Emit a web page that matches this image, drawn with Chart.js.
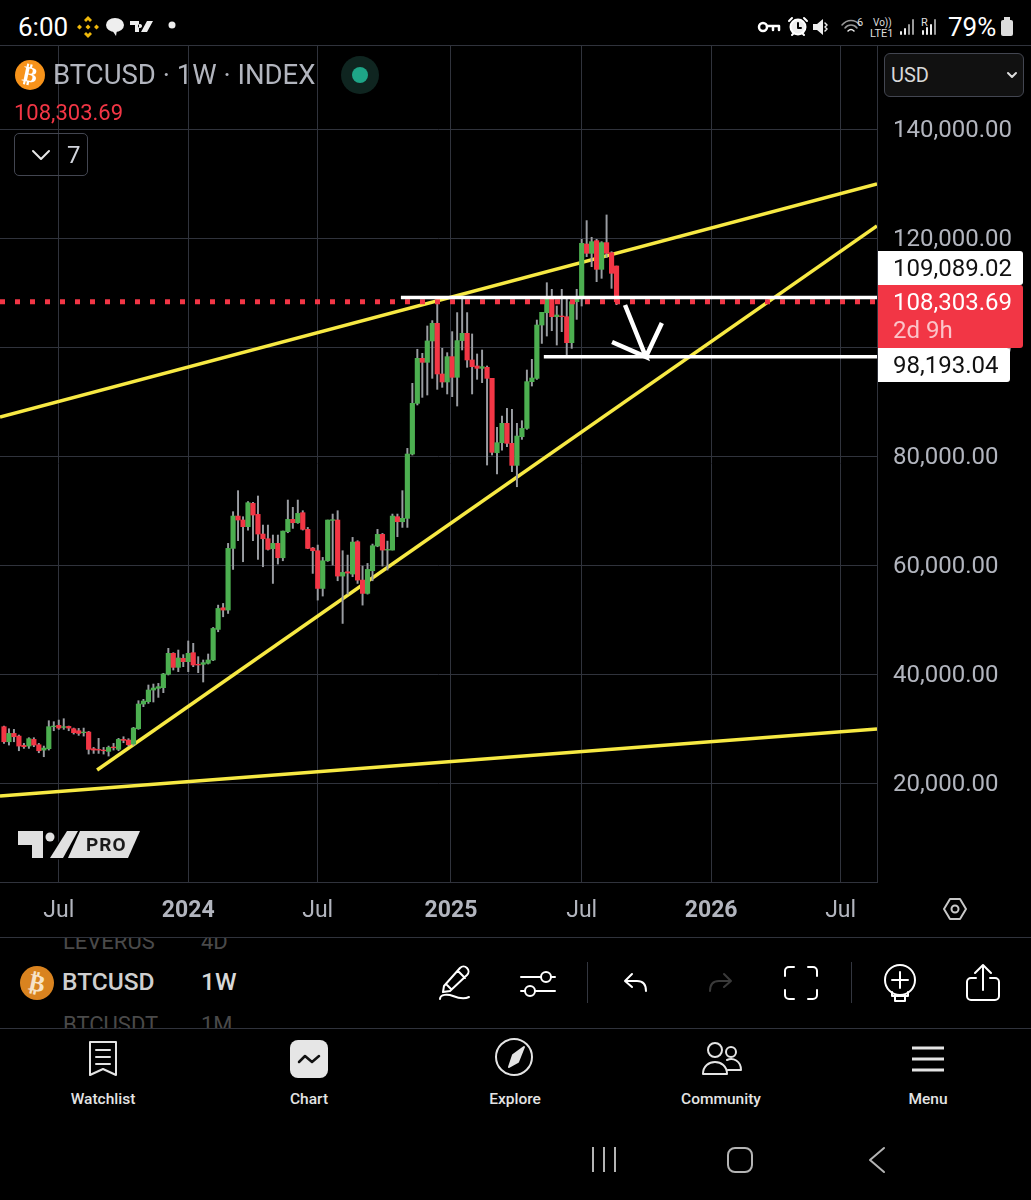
<!DOCTYPE html>
<html>
<head>
<meta charset="utf-8">
<title>BTCUSD 1W</title>
<script src="https://cdn.jsdelivr.net/npm/chart.js@4/dist/chart.umd.min.js"></script>
<style>
html, body { margin: 0; padding: 0; background: #000; }
body { position: relative; width: 1031px; height: 1200px; overflow: hidden; font-family: Roboto, sans-serif; color: #fff; }
#chart { position: absolute; left: 0; top: 45px; }
.t { position: absolute; white-space: nowrap; line-height: 1; }
.rule { position: absolute; left: 0; width: 1031px; height: 1px; background: #30333c; }
.box { position: absolute; box-sizing: border-box; }
.nav { position: absolute; top: 1092px; width: 120px; text-align: center; font-size: 15.5px; font-weight: 500; color: #e4e4e4; line-height: 1; }
svg.i { position: absolute; overflow: visible; fill: none; stroke: #fff; stroke-width: 2; stroke-linecap: round; stroke-linejoin: round; }
</style>
</head>
<body>
<canvas id="chart" width="1031" height="892"></canvas>

<!-- status bar -->
<div class="t" style="left:18px;top:14px;font-size:26px;">6:00</div>
<svg class="i" style="left:76px;top:15px;stroke:none;fill:#f0b90b" width="24" height="24" viewBox="0 0 24 24">
  <path d="M12 1l4 4-2 2-2-2-2 2-2-2zM12 23l4-4-2-2-2 2-2-2-2 2zM1 12l2.500-2.500L6 12l-2.500 2.500zM18 12l2.500-2.500L23 12l-2.500 2.500zM12 9.500l2.500 2.500-2.500 2.500L9.500 12z"/>
</svg>
<svg class="i" style="left:105px;top:17px;stroke:none;fill:#eee" width="20" height="20" viewBox="0 0 20 20">
  <ellipse cx="10" cy="8" rx="9" ry="7"/><path d="M7 13l4 6 1-6z"/>
</svg>
<svg class="i" style="left:130px;top:21px;stroke:none;fill:#eee" width="24" height="12" viewBox="0 0 24 12">
  <path d="M0 0h9v11H5V4H0zM10 3a2 2 0 1 0 .01 0zM17 0h6l-6 11h-6z"/>
</svg>
<svg class="i" style="left:168px;top:21px;stroke:none;fill:#eee" width="8" height="8"><circle cx="4" cy="4" r="3.500"/></svg>
<svg class="i" style="left:758px;top:20px;stroke-width:2.500" width="22" height="14" viewBox="0 0 22 14">
  <circle cx="5" cy="7" r="4"/><path d="M9 6h12v4M15 6v4"/>
</svg>
<svg class="i" style="left:788px;top:17px;" width="20" height="20" viewBox="0 0 20 20">
  <circle cx="10" cy="10" r="7.500" fill="#eee"/><path d="M10 6v5h3" stroke="#000"/><path d="M1 4l3-3M19 4l-3-3M4 18l2-2M16 18l-2-2"/>
</svg>
<svg class="i" style="left:812px;top:18px;stroke:none;fill:#eee" width="20" height="18" viewBox="0 0 20 18">
  <path d="M1 6h4l6-5v16l-6-5H1z"/><path d="M13 5l2 2-2 2 2 2-2 2" fill="none" stroke="#eee" stroke-width="1.500"/>
</svg>
<svg class="i" style="left:841px;top:18px;stroke:#999;stroke-width:1.500" width="22" height="18" viewBox="0 0 22 18">
  <path d="M1 7c5-6 13-6 18 0M4 10c3-4 9-4 12 0" /><path d="M7 13c2-2 4-2 6 0" stroke="#eee"/>
</svg>
<div class="t" style="left:857px;top:17px;font-size:11px;color:#ddd;">6</div>
<div class="t" style="left:873px;top:18px;font-size:10px;color:#ddd;">Vo))</div>
<div class="t" style="left:870px;top:28px;font-size:11px;color:#ddd;">LTE1</div>
<svg class="i" style="left:899px;top:18px;stroke:#999;stroke-width:2" width="16" height="18" viewBox="0 0 16 18">
  <path d="M2 16v-2" stroke="#eee"/><path d="M6 16v-5" stroke="#eee"/><path d="M10 16v-9M14 16V2"/>
</svg>
<div class="t" style="left:921px;top:17px;font-size:11px;color:#ddd;">R</div>
<svg class="i" style="left:921px;top:18px;stroke:#999;stroke-width:2" width="16" height="18" viewBox="0 0 16 18">
  <path d="M2 16v-3" stroke="#eee"/><path d="M6 16v-6" stroke="#eee"/><path d="M10 16v-9" stroke="#eee"/><path d="M14 16V2"/>
</svg>
<div class="t" style="left:948px;top:14px;font-size:26px;">79%</div>
<svg class="i" style="left:1000px;top:17px;stroke:none;fill:#ddd" width="14" height="20" viewBox="0 0 14 20">
  <rect x="4" y="0" width="6" height="3"/><rect x="1" y="3" width="12" height="16" rx="2"/>
</svg>
<div class="rule" style="top:45px;"></div>

<!-- chart header -->
<svg class="i" style="left:15px;top:60px;stroke:none" width="30" height="30"><circle cx="15" cy="15" r="15" fill="#f7931a"/></svg>
<div class="t" style="left:15px;top:60px;width:30px;text-align:center;font-size:22px;font-weight:700;line-height:30px;font-family:'DejaVu Sans';transform:rotate(12deg);">₿</div>
<div class="t" style="left:53px;top:61px;font-size:27.500px;color:#b2b5be;">BTCUSD · 1W · INDEX</div>
<svg class="i" style="left:341px;top:56px;stroke:none" width="38" height="38">
  <circle cx="19" cy="19" r="19" fill="#0f2520"/><circle cx="19" cy="19" r="8" fill="#1ea587"/>
</svg>
<div class="t" style="left:14px;top:102px;font-size:22px;color:#f23645;">108,303.69</div>
<div class="box" style="left:14px;top:133px;width:74px;height:43px;border:1.500px solid #434651;border-radius:5px;"></div>
<svg class="i" style="left:32px;top:150px;stroke:#e8e8e8" width="18" height="10"><path d="M1 1l8 8 8-8"/></svg>
<div class="t" style="left:67px;top:143px;font-size:24px;color:#d1d4dc;">7</div>
<div class="box" style="left:884px;top:53px;width:140px;height:44px;border:1.500px solid #434651;border-radius:6px;background:#111;"></div>
<div class="t" style="left:891px;top:65px;font-size:20px;color:#d8d8d8;">USD</div>
<svg class="i" style="left:1007px;top:72px;stroke:#ddd" width="10" height="6"><path d="M1 1l4 4 4-4"/></svg>

<!-- price labels on the axis -->
<div class="box" style="left:878px;top:251px;width:145px;height:34px;background:#fff;border-radius:0 3px 3px 0;"></div>
<div class="t" style="left:893px;top:256px;font-size:24px;color:#111;">109,089.02</div>
<div class="box" style="left:878px;top:285px;width:145px;height:63px;background:#f23645;border-radius:0 3px 3px 0;"></div>
<div class="t" style="left:893px;top:290px;font-size:24px;color:#fff;">108,303.69</div>
<div class="t" style="left:893px;top:318px;font-size:24px;color:#fbc4c9;">2d 9h</div>
<div class="box" style="left:878px;top:348px;width:132px;height:34px;background:#fff;border-radius:0 3px 3px 0;"></div>
<div class="t" style="left:893px;top:353px;font-size:24px;color:#111;">98,193.04</div>

<!-- logo on the chart -->
<svg class="i" style="left:18px;top:831px;stroke:#000;stroke-width:3;fill:#e0e0e0;paint-order:stroke" width="122" height="27" viewBox="0 0 122 27">
  <path d="M0 0h25v27H14V14H0z"/><circle cx="32" cy="6" r="4.500"/><path d="M49 0h11L45 27H32z"/><path d="M62 0h60l-12 27H50z"/>
</svg>
<div class="t" style="left:86px;top:835px;font-size:19px;font-weight:700;color:#1a1a1a;letter-spacing:1px;">PRO</div>

<!-- axis settings -->
<svg class="i" style="left:943px;top:897px;stroke:#c8c8c8" width="24" height="24" viewBox="0 0 24 24">
  <path d="M1 12L7 2h10l6 10-6 10H7z"/><circle cx="12" cy="12" r="3.500"/>
</svg>
<div class="rule" style="top:937px;"></div>

<!-- symbol strip -->
<div style="position:absolute;left:0;top:938px;width:400px;height:14px;overflow:hidden;">
  <div class="t" style="left:63px;top:-7px;font-size:22px;color:#4a4a4a;">LEVERUS</div>
  <div class="t" style="left:201px;top:-7px;font-size:22px;color:#4a4a4a;">4D</div>
</div>
<svg class="i" style="left:20px;top:966px;stroke:none" width="34" height="34"><circle cx="17" cy="17" r="17" fill="#d9831f"/></svg>
<div class="t" style="left:20px;top:966px;width:34px;text-align:center;font-size:24px;font-weight:700;line-height:34px;font-family:'DejaVu Sans';transform:rotate(12deg);color:#f6e3c8;">₿</div>
<div class="t" style="left:62px;top:970px;font-size:24.500px;font-weight:500;color:#cfcfcf;">BTCUSD</div>
<div class="t" style="left:201px;top:970px;font-size:24.500px;font-weight:500;color:#d8d8d8;">1W</div>
<div style="position:absolute;left:0;top:1012px;width:400px;height:16px;overflow:hidden;">
  <div class="t" style="left:63px;top:2px;font-size:22px;color:#4a4a4a;">BTCUSDT</div>
  <div class="t" style="left:201px;top:2px;font-size:22px;color:#4a4a4a;">1M</div>
</div>

<!-- toolbar -->
<svg class="i" style="left:438px;top:964px;" width="36" height="38" viewBox="0 0 36 38">
  <path d="M6 22L22 4c2-2 5-2 7 0s2 5 0 7L12 27l-7 1zM20 7l7 7M9 21l4 4"/><path d="M2 35c0-5 8-5 13-3s12 3 16 1"/>
</svg>
<svg class="i" style="left:520px;top:968px;" width="36" height="30" viewBox="0 0 36 30">
  <path d="M1 9h20M31 9h4M1 23h4M15 23h20"/><circle cx="26" cy="9" r="5"/><circle cx="10" cy="23" r="5"/>
</svg>
<div class="box" style="left:587px;top:962px;width:1px;height:41px;background:#33363f;"></div>
<svg class="i" style="left:624px;top:973px;" width="24" height="20" viewBox="0 0 24 20">
  <path d="M8 1L1 8l7 6M1 8h12c6 0 9 4 9 10"/>
</svg>
<svg class="i" style="left:708px;top:973px;stroke:#3a3a3a" width="24" height="20" viewBox="0 0 24 20">
  <path d="M16 1l7 7-7 6M23 8H11c-6 0-9 4-9 10"/>
</svg>
<svg class="i" style="left:784px;top:966px;" width="34" height="34" viewBox="0 0 34 34">
  <path d="M10 1H5a4 4 0 0 0-4 4v5M24 1h5a4 4 0 0 1 4 4v5M10 33H5a4 4 0 0 1-4-4v-5M24 33h5a4 4 0 0 0 4-4v-5"/>
</svg>
<div class="box" style="left:851px;top:962px;width:1px;height:41px;background:#33363f;"></div>
<svg class="i" style="left:884px;top:964px;" width="32" height="38" viewBox="0 0 32 38">
  <circle cx="16" cy="16" r="15"/><path d="M16 8v16M8 16h16"/><path d="M8 28v4h16v-4M11 32v5h10v-5"/>
</svg>
<svg class="i" style="left:966px;top:964px;" width="34" height="38" viewBox="0 0 34 38">
  <path d="M17 26V2M9 9l8-8 8 8"/><path d="M10 14H5a4 4 0 0 0-4 4v14a4 4 0 0 0 4 4h24a4 4 0 0 0 4-4V18a4 4 0 0 0-4-4h-5"/>
</svg>
<div class="rule" style="top:1028px;"></div>

<!-- bottom navigation -->
<svg class="i" style="left:89px;top:1041px;stroke:#e4e4e4" width="28" height="36" viewBox="0 0 28 36">
  <path d="M1 1h26v33l-13-6-13 6zM7 9h14M7 16h14M7 23h14"/>
</svg>
<svg class="i" style="left:290px;top:1040px;stroke:none;fill:#e6e6e6" width="38" height="38"><rect width="38" height="38" rx="8"/></svg>
<svg class="i" style="left:298px;top:1053px;stroke:#111;stroke-width:2.500" width="22" height="12" viewBox="0 0 22 12"><path d="M1 9l6-6 7 6 7-6"/></svg>
<svg class="i" style="left:495px;top:1038px;stroke:#e4e4e4" width="38" height="38" viewBox="0 0 38 38">
  <circle cx="19" cy="19" r="18"/><path d="M29 9l-6 15-9 5 4-12z" fill="#e4e4e4"/>
</svg>
<svg class="i" style="left:702px;top:1042px;stroke:#e4e4e4" width="40" height="34" viewBox="0 0 40 34">
  <circle cx="13" cy="8" r="7"/><circle cx="29" cy="10" r="5"/><path d="M1 32c0-16 24-16 24 0zM25 18c6-3 14 1 14 10H26"/>
</svg>
<svg class="i" style="left:912px;top:1046px;stroke:#e4e4e4;stroke-width:3;stroke-linecap:butt" width="32" height="26" viewBox="0 0 32 26">
  <path d="M0 2h32M0 13h32M0 24h32"/>
</svg>
<div class="nav" style="left:43px;">Watchlist</div>
<div class="nav" style="left:249px;">Chart</div>
<div class="nav" style="left:455px;">Explore</div>
<div class="nav" style="left:661px;">Community</div>
<div class="nav" style="left:868px;">Menu</div>

<!-- android buttons -->
<svg class="i" style="left:591px;top:1147px;stroke:#b4b4b4;stroke-linecap:butt" width="26" height="26"><path d="M2 0v25M13 0v25M24 0v25"/></svg>
<svg class="i" style="left:727px;top:1147px;stroke:#b4b4b4" width="26" height="26"><rect x="1" y="1" width="24" height="24" rx="7"/></svg>
<svg class="i" style="left:869px;top:1147px;stroke:#b4b4b4" width="16" height="26"><path d="M15 1L1 13l14 12"/></svg>

<script>
// BTCUSD weekly candles (first candle is week 1)
const opens = [
  30330,27570,29100,28610,26900,26780,28000,27020,26040,26290,
  30330,30570,30210,30390,29960,29590,29230,29350,26290,26170,
  26040,25800,26600,26170,28000,27880,27150,29960,34490,34920,
  37060,37370,37490,39940,43790,41220,42870,42260,43910,41770,
  41770,41960,42570,48180,52150,51730,63050,68980,68250,67030,
  71310,69290,65680,64820,62990,63970,61330,66110,68370,67760,
  69600,66540,63110,62620,55700,60780,68190,68250,57970,58760,
  58340,64270,57230,54790,58950,63480,65620,62740,62740,68860,
  67940,68560,80360,89660,97920,97190,101110,104350,95050,93580,
  98230,94440,101170,102510,97620,96520,96090,96270,94250,80600,
  82440,85990,82320,78280,83540,85070,93640,94240,104030,106290,
  108930,105560,105680,105560,100790,108310,109110,118900,117190,119510,
  114250,119150,117310,114860
];
const highs = [
  30450,29960,29840,28800,27270,28310,28310,27270,26780,31430,
  31250,31550,31800,30450,30080,30020,30080,29470,26530,28190,
  26530,26780,27270,28190,28490,28130,30210,35100,35350,37980,
  38160,38280,40120,44710,43910,44400,43550,46060,45630,43180,
  42570,43670,48540,52640,52950,63970,69780,73640,68860,71620,
  71490,72660,67330,67330,65500,65500,66230,71920,70580,71920,
  69960,66900,63230,63660,61400,68250,69350,69960,62620,61820,
  65070,64460,59800,60290,63840,66540,65800,64390,69350,69350,
  73640,81400,93330,99580,98840,103860,104840,108020,99760,98960,
  102820,106310,109370,106310,102390,98720,99450,96520,94250,85260,
  87340,88740,88560,85990,86480,95780,97740,104950,106360,111800,
  110580,107520,110580,108930,108310,110580,119760,123190,120130,119760,
  119330,124230,117490,114860
];
const lows = [
  27270,26960,27570,25920,26350,26350,26660,25550,24820,26040,
  29590,29840,29840,29590,28980,28740,28610,25310,25430,25430,
  25310,24940,26040,25920,27390,26780,26900,29840,34000,34610,
  34860,35710,36570,39810,40730,40430,41340,40430,41340,40240,
  38530,41830,42450,47750,50500,51110,59190,64460,60600,66410,
  64460,61030,59680,62740,56620,60170,60780,65920,66720,67640,
  66410,62990,58460,53560,54300,60660,59990,57110,49280,54660,
  57850,56620,52640,54660,57110,63350,59800,59070,62740,65190,
  66900,66900,80180,89360,90760,91190,94250,92230,92600,91380,
  90890,89170,99450,96270,91380,94070,93460,78340,80180,76690,
  81090,81710,77120,74360,83050,84890,92840,94050,100660,102010,
  102990,100360,102810,98340,99750,105070,107520,116580,114740,111990,
  112600,116450,110760,107760
];
const closes = [
  27570,29100,28490,26780,26660,28130,26960,25920,26410,30330,
  30450,30080,30330,30080,29230,29100,29350,26170,26040,26040,
  25920,26530,26470,28000,27820,27020,30080,34490,35040,37060,
  37430,37670,40000,43790,41220,42940,42260,43790,41650,41650,
  42080,42570,48360,52030,51730,63050,68980,68250,67030,71430,
  69170,65680,64820,62860,63970,61330,66230,68370,67760,69470,
  66540,63050,62620,55700,60780,68250,68310,57970,58640,58520,
  64210,57230,54790,59190,63540,65620,62740,62860,68980,67940,
  68560,80360,89660,97920,97190,101110,104350,95050,93580,98230,
  94440,101170,102510,97620,96390,96090,96390,94250,80670,82440,
  85990,82320,78280,83660,85070,93640,94310,104030,106360,108740,
  105560,105870,105560,100790,108310,109110,119020,117190,119330,114250,
  119150,117190,113520,108303.69
];

// time and price ticks
const weekTicks = [12, 38, 64, 90.75, 117, 143, 169];
const weekTickLabels = ['Jul', '2024', 'Jul', '2025', 'Jul', '2026', 'Jul'];
const priceTicks = [20000, 40000, 60000, 80000, 100000, 120000, 140000];

// drawn trend lines
const upperTrendWeeks = [0.2, 176.3];
const upperTrendPrices = [87160, 129920];
const risingTrendWeeks = [19.7, 176.3];
const risingTrendPrices = [22390, 122210];
const lowerTrendWeeks = [0.2, 176.3];
const lowerTrendPrices = [17620, 29910];

// horizontal levels
const lastPrice = 108303.69;
const resistance = 109089.02;
const resistanceStartWeek = 80.7;
const support = 98193.04;
const supportStartWeek = 109.4;

// hand drawn arrow
const arrowWeeks = [125.7, 129.9, 123.1, 129.9, 133.1];
const arrowPrices = [107710, 98190, 100920, 98190, 104410];

const WEEK_MIN = 0.2, WEEK_MAX = 176.3;
const GRID = '#30333c';

function pts(xs, ys) {
    return xs.map((x, i) => ({ x: x, y: ys[i] }));
}

function lineDs(data, color, width, order, dash) {
    return {
        type: 'line',
        data: data,
        borderColor: color,
        borderWidth: width,
        borderDash: dash || [],
        pointRadius: 0,
        tension: 0,
        order: order
    };
}

const wicks = opens.map((o, i) => ({ x: i + 1, y: [lows[i], highs[i]] }));
const bodies = opens.map((o, i) => ({ x: i + 1, y: [Math.min(o, closes[i]), Math.max(o, closes[i])] }));
const bodyColors = opens.map((o, i) => closes[i] >= o ? '#4caf50' : '#f23645');

new Chart(document.getElementById('chart').getContext('2d'), {
    type: 'bar',
    data: {
        datasets: [
            lineDs(pts(arrowWeeks, arrowPrices), '#ffffff', 4.5, 1),
            lineDs(pts([resistanceStartWeek, WEEK_MAX], [resistance, resistance]), '#ffffff', 3.5, 2),
            lineDs(pts([supportStartWeek, WEEK_MAX], [support, support]), '#ffffff', 3.5, 2),
            lineDs(pts([WEEK_MIN, WEEK_MAX], [lastPrice, lastPrice]), '#f23645', 5, 3, [5, 10]),
            { data: bodies, backgroundColor: bodyColors, barThickness: 4.5, grouped: false, order: 4 },
            { data: wicks, backgroundColor: '#9a9da2', barThickness: 1.3, grouped: false, order: 5 },
            lineDs(pts(upperTrendWeeks, upperTrendPrices), '#f7e943', 3.5, 6),
            lineDs(pts(risingTrendWeeks, risingTrendPrices), '#f7e943', 3.5, 6),
            lineDs(pts(lowerTrendWeeks, lowerTrendPrices), '#f7e943', 3.5, 6)
        ]
    },
    options: {
        responsive: false,
        animation: false,
        devicePixelRatio: 1,
        layout: { padding: 0 },
        plugins: { legend: { display: false }, tooltip: { enabled: false } },
        scales: {
            x: {
                type: 'linear',
                min: WEEK_MIN,
                max: WEEK_MAX,
                offset: false,
                afterBuildTicks: s => { s.ticks = weekTicks.map(v => ({ value: v })); },
                afterFit: s => { s.height = 55; s.paddingLeft = 0; s.paddingRight = 0; },
                grid: { color: GRID, drawTicks: false, offset: false },
                border: { color: GRID },
                ticks: {
                    autoSkip: false,
                    maxRotation: 0,
                    padding: 15,
                    color: '#b2b5be',
                    font: c => ({ family: 'Roboto', size: 23, weight: /^\d/.test(weekTickLabels[c.index]) ? '700' : '400' }),
                    callback: (v, i) => weekTickLabels[i]
                }
            },
            y: {
                position: 'right',
                min: 1835,
                max: 155413,
                afterBuildTicks: s => { s.ticks = priceTicks.map(v => ({ value: v })); },
                afterFit: s => { s.width = 154; s.paddingTop = 0; s.paddingBottom = 0; },
                grid: { color: GRID, drawTicks: false },
                border: { color: GRID },
                ticks: {
                    padding: 16,
                    labelOffset: 2,
                    color: '#b2b5be',
                    font: { family: 'Roboto', size: 24 },
                    callback: v => v.toLocaleString('en-US', { minimumFractionDigits: 2 })
                }
            }
        }
    }
});
</script>
</body>
</html>
